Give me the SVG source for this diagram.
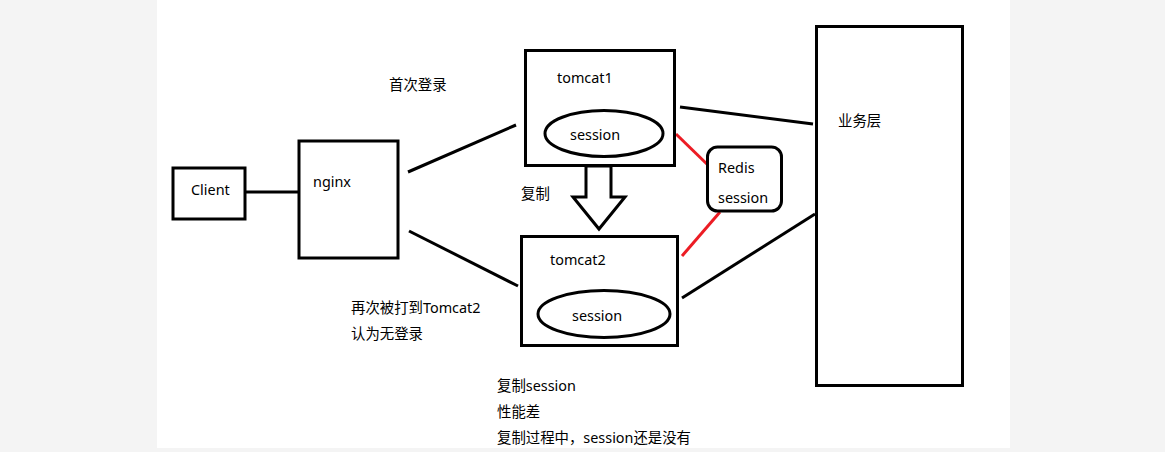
<svg xmlns="http://www.w3.org/2000/svg" width="1165" height="452" viewBox="0 0 1165 452">
<style>
.box{fill:#fff;stroke:#000;stroke-width:3}
.ln{stroke:#000;stroke-width:3;fill:none}
.red{stroke:#ec1c24;stroke-width:3;fill:none}
text{font-family:"Noto Sans","Noto Sans CJK SC",sans-serif;font-size:14.4px;fill:#000}
</style>
<rect x="0" y="0" width="1165" height="452" fill="#f4f4f4"/>
<rect x="157" y="0" width="853" height="448" fill="#fff"/>
<g id="connectors">
<line class="ln" x1="246" y1="192" x2="299" y2="192"/>
<line class="ln" x1="408" y1="172" x2="516" y2="125"/>
<line class="ln" x1="409" y1="231" x2="518" y2="286"/>
<line class="ln" x1="680" y1="107" x2="813" y2="124"/>
<line class="ln" x1="682" y1="298" x2="815" y2="214"/>
<line class="red" x1="676" y1="134" x2="711" y2="168"/>
<line class="red" x1="720" y1="212" x2="682" y2="256"/>
<polygon class="ln" points="586,166 611,166 611,197 625,197 599,229 573,197 586,197" fill="#fff"/>
</g>
<g id="client">
<rect class="box" x="173" y="168" width="72" height="51"/>
<text x="191" y="195">Client</text>
</g>
<g id="nginx">
<rect class="box" x="299" y="141" width="99" height="117"/>
<text x="313" y="187">nginx</text>
</g>
<g id="tomcat1">
<rect class="box" x="525.5" y="50.5" width="149" height="115"/>
<text x="557" y="83">tomcat1</text>
<ellipse class="box" cx="604" cy="133.5" rx="59" ry="23"/>
<text x="570" y="140">session</text>
</g>
<g id="tomcat2">
<rect class="box" x="521.5" y="236.5" width="156" height="109"/>
<text x="550" y="265">tomcat2</text>
<ellipse class="box" cx="604" cy="314" rx="66" ry="23.5"/>
<text x="572" y="321">session</text>
</g>
<g id="redis">
<rect class="box" x="707.5" y="147" width="74" height="64" rx="10" ry="10"/>
<text x="718" y="173">Redis</text>
<text x="718" y="203">session</text>
</g>
<g id="business">
<rect class="box" x="816.5" y="26.5" width="146" height="359"/>
<text x="838" y="126">业务层</text>
</g>
<g id="labels">
<text x="389" y="90">首次登录</text>
<text x="521" y="199">复制</text>
<text x="351" y="313">再次被打到Tomcat2</text>
<text x="351" y="339">认为无登录</text>
<text x="497" y="391">复制session</text>
<text x="497" y="417">性能差</text>
<text x="497" y="443">复制过程中，session还是没有</text>
</g>
</svg>
